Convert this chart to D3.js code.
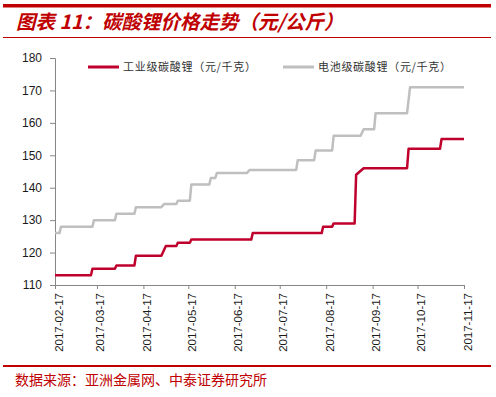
<!DOCTYPE html>
<html>
<head>
<meta charset="utf-8">
<script src="https://cdn.jsdelivr.net/npm/d3@7"></script>
<style>
  body { margin: 0; background: #fff; }
  svg { display: block; }
</style>
</head>
<body>
<div id="chart"></div>
<script>
// data (step changes, price in 元)
const industrialDates = ["2017-02-17", "2017-03-13", "2017-03-14", "2017-03-29", "2017-03-30",
    "2017-04-11", "2017-04-12", "2017-04-29", "2017-05-02", "2017-05-09", "2017-05-10",
    "2017-05-18", "2017-05-19", "2017-06-28", "2017-06-29", "2017-08-14", "2017-08-15",
    "2017-08-21", "2017-08-22", "2017-09-05", "2017-09-06", "2017-09-11", "2017-10-10",
    "2017-10-11", "2017-11-01", "2017-11-02", "2017-11-17"];
const industrialValues = [113, 113, 115, 115, 116,
    116, 119, 119, 122, 122, 123,
    123, 124, 124, 126, 126, 128,
    128, 129, 129, 144, 146, 146,
    152, 152, 155, 155];

const batteryDates = ["2017-02-17", "2017-02-20", "2017-02-21", "2017-03-14", "2017-03-15",
    "2017-03-29", "2017-03-30", "2017-04-11", "2017-04-12", "2017-04-29", "2017-05-01",
    "2017-05-09", "2017-05-10", "2017-05-18", "2017-05-19", "2017-05-31", "2017-06-01",
    "2017-06-04", "2017-06-05", "2017-06-25", "2017-06-27", "2017-07-28", "2017-07-29",
    "2017-08-09", "2017-08-10", "2017-08-21", "2017-08-22", "2017-09-09", "2017-09-11",
    "2017-09-18", "2017-09-19", "2017-10-10", "2017-10-12", "2017-11-17"];
const batteryValues = [126, 126, 128, 128, 130,
    130, 132, 132, 134, 134, 135,
    135, 136, 136, 141, 141, 143,
    143, 144.5, 144.5, 145.5, 145.5, 148.5,
    148.5, 151.5, 151.5, 156, 156, 158,
    158, 163, 163, 171, 171];

const xTickLabels = ["2017-02-17", "2017-03-17", "2017-04-17", "2017-05-17", "2017-06-17",
    "2017-07-17", "2017-08-17", "2017-09-17", "2017-10-17", "2017-11-17"];
const yTicks = [110, 120, 130, 140, 150, 160, 170, 180];

const seriesNames = ["工业级碳酸锂（元/千克）", "电池级碳酸锂（元/千克）"];
const seriesColors = ["#c0002c", "#bfbfbf"];

const W = 496, H = 397;
const red = "#c00000";
const parse = d3.timeParse("%Y-%m-%d");

const svg = d3.select("#chart").append("svg")
    .attr("width", W)
    .attr("height", H);

// header rules and title
svg.append("rect").attr("x", 3).attr("y", 4).attr("width", 488).attr("height", 3.5).attr("fill", red);
svg.append("line").attr("x1", 3).attr("x2", 491).attr("y1", 37.5).attr("y2", 37.5)
    .attr("stroke", red).attr("stroke-width", 1);
svg.append("text")
    .attr("x", 16).attr("y", 29)
    .attr("fill", red)
    .style("font-family", "'Noto Sans CJK SC', sans-serif")
    .style("font-size", "19.5px")
    .style("font-weight", "bold")
    .style("font-style", "italic")
    .text("图表 11：碳酸锂价格走势（元/公斤）");

const x = d3.scaleTime()
    .domain([parse("2017-02-17"), parse("2017-11-17")])
    .range([55, 464]);

const y = d3.scaleLinear()
    .domain([110, 180])
    .range([285, 58]);

const axisColor = "#868686";
const tickFont = "'Liberation Sans', Arial, sans-serif";

// y axis
const yAxis = svg.append("g")
    .attr("transform", "translate(55,0)")
    .call(d3.axisLeft(y).tickValues(yTicks).tickSize(5).tickPadding(8).tickFormat(d3.format("d")));
yAxis.select(".domain").attr("stroke", axisColor);
yAxis.selectAll(".tick line").attr("stroke", axisColor);
yAxis.selectAll("text")
    .attr("fill", "#1a1a1a")
    .style("font-family", tickFont)
    .style("font-size", "12px");

// x axis
const xAxis = svg.append("g")
    .attr("transform", "translate(0,285)")
    .call(d3.axisBottom(x).tickValues(xTickLabels.map(parse)).tickSize(4)
        .tickFormat(d3.timeFormat("%Y-%m-%d")));
xAxis.select(".domain").attr("stroke", axisColor);
xAxis.selectAll(".tick line").attr("stroke", axisColor);
xAxis.selectAll("text")
    .attr("fill", "#1a1a1a")
    .style("font-family", tickFont)
    .style("font-size", "11.5px")
    .attr("text-anchor", "end")
    .attr("transform", "rotate(-90)")
    .attr("x", -8)
    .attr("y", 3)
    .attr("dy", "0.35em");

// lines
const line = d3.line()
    .x(d => x(d.date))
    .y(d => y(d.value));

const series = [
    {dates: batteryDates, values: batteryValues, color: seriesColors[1]},
    {dates: industrialDates, values: industrialValues, color: seriesColors[0]}
];

series.forEach(s => {
    const data = s.dates.map((d, i) => ({date: parse(d), value: s.values[i]}));
    svg.append("path")
        .datum(data)
        .attr("fill", "none")
        .attr("stroke", s.color)
        .attr("stroke-width", 2.5)
        .attr("stroke-linejoin", "round")
        .attr("d", line);
});

// legend
const legendX = [88, 283];
seriesNames.forEach((name, i) => {
    const g = svg.append("g").attr("transform", `translate(${legendX[i]},67)`);
    g.append("line")
        .attr("x1", 0).attr("x2", 31)
        .attr("stroke", seriesColors[i])
        .attr("stroke-width", 3);
    g.append("text")
        .attr("x", 35)
        .attr("dy", "0.36em")
        .attr("fill", "#333")
        .style("font-family", "'Noto Sans CJK SC', sans-serif")
        .style("font-size", "11px")
        .style("letter-spacing", "0.7px")
        .text(name);
});

// footer
svg.append("rect").attr("x", 3).attr("y", 365).attr("width", 488).attr("height", 2).attr("fill", red);
svg.append("text")
    .attr("x", 15).attr("y", 385)
    .attr("fill", red)
    .style("font-family", "'Noto Sans CJK SC', sans-serif")
    .style("font-size", "14px")
    .text("数据来源：亚洲金属网、中泰证券研究所");
</script>
</body>
</html>
